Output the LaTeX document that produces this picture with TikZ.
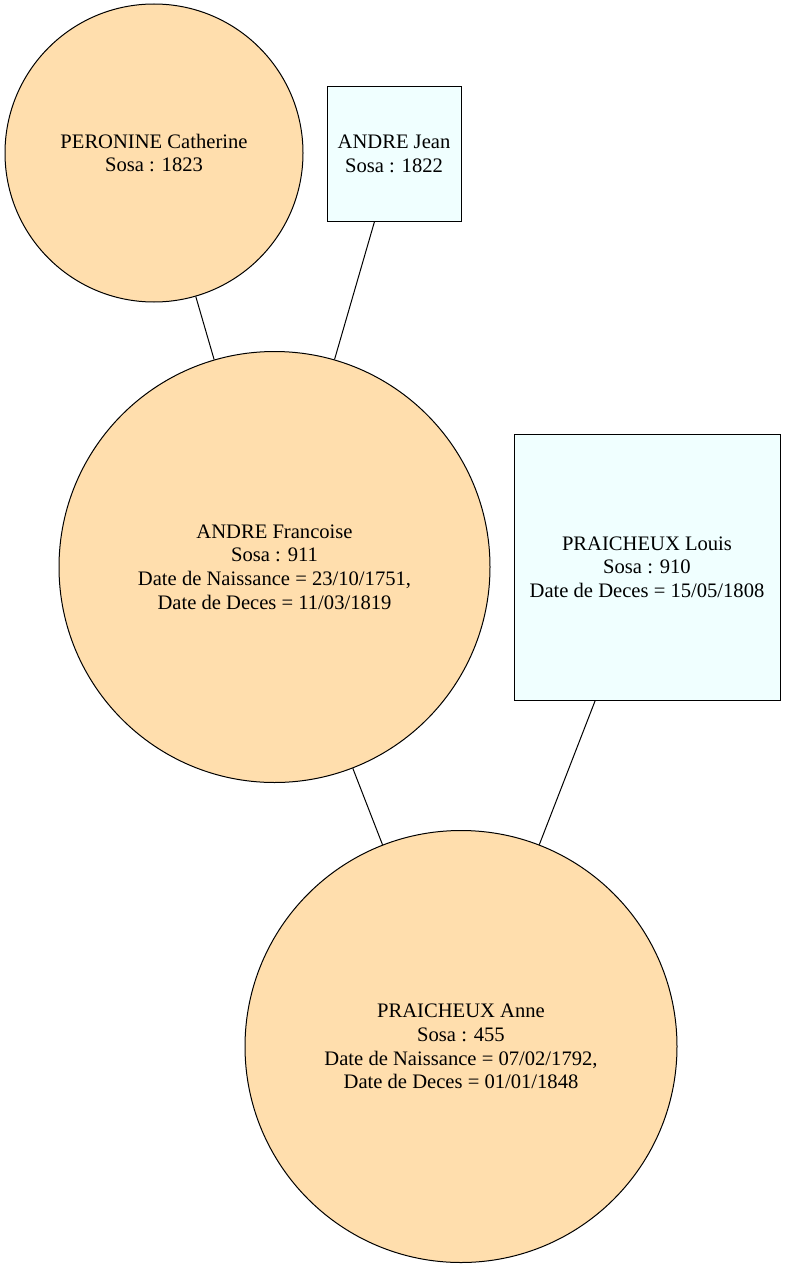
\documentclass[tikz,border=0pt]{standalone}
\usepackage{fontspec}
\setmainfont{Liberation Serif}
\definecolor{navw}{HTML}{FFDEAD}
\definecolor{azur}{HTML}{F0FFFF}
\begin{document}
\begin{tikzpicture}[x=1pt,y=-1pt,
  person/.style={circle,draw=black,line width=1pt,fill=navw,inner sep=0pt,align=center,font=\fontsize{20.6}{23.7}\selectfont},
  man/.style={rectangle,draw=black,line width=1pt,fill=azur,inner sep=0pt,align=center,font=\fontsize{20.6}{23.7}\selectfont},
  link/.style={draw=black,line width=1pt}]
\useasboundingbox (0,0) rectangle (786,1268);
\node[person,minimum size=298pt] (peronine) at (154,153) {PERONINE Catherine\\Sosa : 1823};
\node[man,minimum width=134pt,minimum height=134pt] (jean) at (394,154) {ANDRE Jean\\Sosa : 1822};
\node[person,minimum size=431pt] (francoise) at (274.5,567) {ANDRE Francoise\\Sosa : 911\\Date de Naissance = 23/10/1751,\\Date de Deces = 11/03/1819};
\node[man,minimum width=266pt,minimum height=266pt] (louis) at (647,567) {PRAICHEUX Louis\\Sosa : 910\\Date de Deces = 15/05/1808};
\node[person,minimum size=432pt] (anne) at (461,1046.5) {PRAICHEUX Anne\\Sosa : 455\\Date de Naissance = 07/02/1792,\\Date de Deces = 01/01/1848};
\draw[link] (peronine) -- (francoise);
\draw[link] (jean) -- (francoise);
\draw[link] (francoise) -- (anne);
\draw[link] (louis) -- (anne);
\end{tikzpicture}
\end{document}
